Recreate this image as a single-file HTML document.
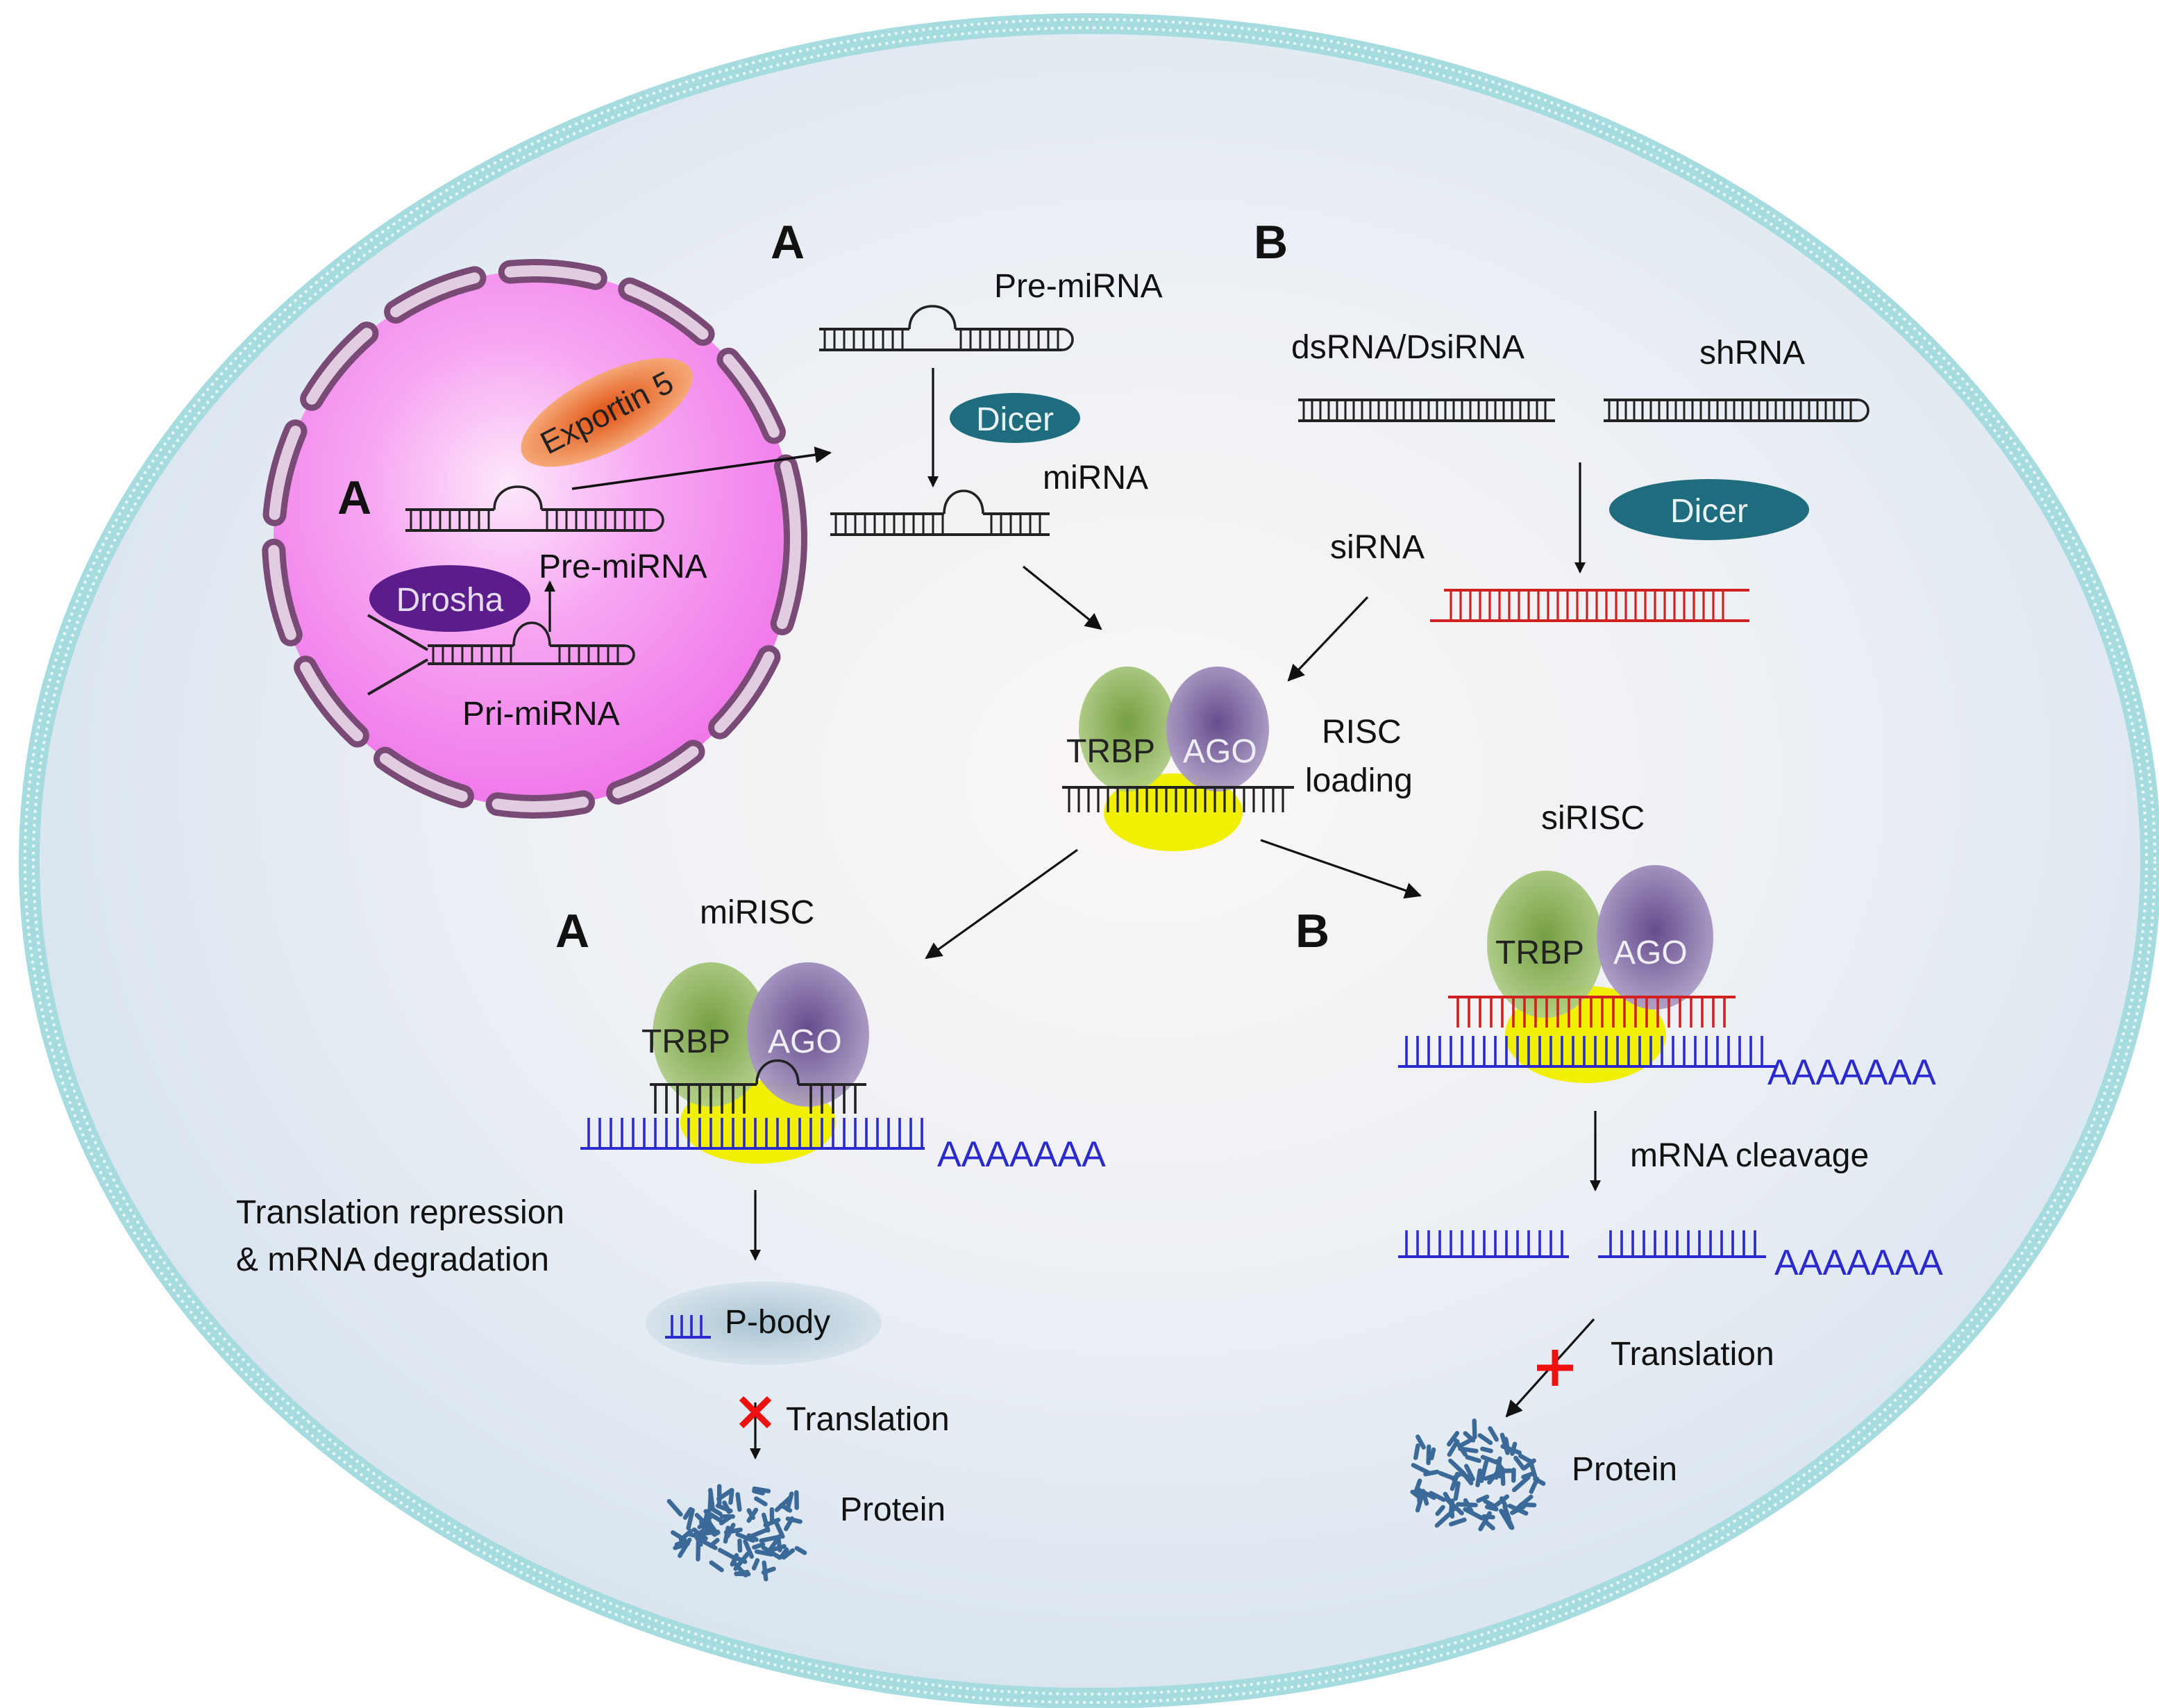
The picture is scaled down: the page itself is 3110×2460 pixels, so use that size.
<!DOCTYPE html>
<html><head><meta charset="utf-8"><style>
html,body{margin:0;padding:0;background:#fff;}
svg{display:block;}
text{font-family:"Liberation Sans",sans-serif;}
</style></head><body>
<svg id="s" width="3110" height="2460" viewBox="0 0 1555 1230" xmlns="http://www.w3.org/2000/svg">
<defs>
<radialGradient id="cell" cx="0.53" cy="0.45" r="0.6">
<stop offset="0" stop-color="#fbf7f5"/><stop offset="0.55" stop-color="#ebeff5"/><stop offset="1" stop-color="#d5e2ee"/></radialGradient>
<radialGradient id="nuc" cx="0.45" cy="0.4" r="0.6">
<stop offset="0" stop-color="#fde8fb"/><stop offset="0.45" stop-color="#f7a6f2"/><stop offset="1" stop-color="#f078ea"/></radialGradient>
<radialGradient id="grn" cx="0.5" cy="0.45" r="0.6"><stop offset="0" stop-color="#6f9a38"/><stop offset="1" stop-color="#b5d28e"/></radialGradient>
<radialGradient id="pur" cx="0.5" cy="0.45" r="0.6"><stop offset="0" stop-color="#5e4487"/><stop offset="1" stop-color="#b3a5cc"/></radialGradient>
<radialGradient id="exp" cx="0.5" cy="0.5" r="0.55"><stop offset="0" stop-color="#e05010"/><stop offset="1" stop-color="#f7b080"/></radialGradient>
<radialGradient id="pb" cx="0.5" cy="0.5" r="0.55"><stop offset="0" stop-color="#a9c4d4"/><stop offset="1" stop-color="#dce6ee"/></radialGradient>
<marker id="ar" markerWidth="8" markerHeight="8" refX="7" refY="4" orient="auto" markerUnits="userSpaceOnUse"><path d="M0,0 L8,4 L0,8 z" fill="#111"/></marker>
<marker id="ar2" markerWidth="12" markerHeight="12" refX="11" refY="6" orient="auto" markerUnits="userSpaceOnUse"><path d="M0,0 L12,6 L0,12 z" fill="#111"/></marker>
</defs>
<rect width="1555" height="1230" fill="#fff"/>
<ellipse cx="785" cy="620" rx="764" ry="603" fill="url(#cell)" stroke="#a6dbe0" stroke-width="15"/>
<ellipse cx="785" cy="620" rx="767" ry="606" fill="none" stroke="#e8f7f8" stroke-width="2" stroke-dasharray="2 3"/>
<ellipse cx="785" cy="620" rx="761" ry="600" fill="none" stroke="#e8f7f8" stroke-width="2" stroke-dasharray="2 3"/>

<!-- nucleus -->
<ellipse cx="385" cy="388" rx="188" ry="193" fill="url(#nuc)"/>
<ellipse cx="385" cy="388" rx="188" ry="193" fill="none" stroke="#7a4a76" stroke-width="17" stroke-dasharray="62 26" stroke-linecap="round"/>
<ellipse cx="385" cy="388" rx="188" ry="193" fill="none" stroke="#e2cde0" stroke-width="8" stroke-dasharray="62 26" stroke-linecap="round"/>

<g id="g"></g>

<g fill="#111">
<text x="555" y="186" font-size="34" font-weight="bold">A</text>
<text x="903" y="186" font-size="34" font-weight="bold">B</text>
<text x="243" y="370" font-size="34" font-weight="bold">A</text>
<text x="400" y="682" font-size="34" font-weight="bold">A</text>
<text x="933" y="682" font-size="34" font-weight="bold">B</text>
<text x="716" y="214" font-size="24">Pre-miRNA</text>
<text x="751" y="352" font-size="24">miRNA</text>
<text x="388" y="416" font-size="24">Pre-miRNA</text>
<text x="333" y="522" font-size="24">Pri-miRNA</text>
<text x="930" y="258" font-size="24">dsRNA/DsiRNA</text>
<text x="1224" y="262" font-size="24">shRNA</text>
<text x="958" y="402" font-size="24">siRNA</text>
<text x="952" y="535" font-size="24">RISC</text>
<text x="940" y="570" font-size="24">loading</text>
<text x="504" y="665" font-size="24">miRISC</text>
<text x="1110" y="597" font-size="24">siRISC</text>
<text x="170" y="881" font-size="24">Translation repression</text>
<text x="170" y="915" font-size="24">&amp; mRNA degradation</text>
<text x="1174" y="840" font-size="24">mRNA cleavage</text>
<text x="566" y="1030" font-size="24">Translation</text>
<text x="605" y="1095" font-size="24">Protein</text>
<text x="1160" y="983" font-size="24">Translation</text>
<text x="1132" y="1066" font-size="24">Protein</text>
</g>
</svg>
<script>
var g=document.getElementById('g'),NS='http://www.w3.org/2000/svg';
function el(t,a){var e=document.createElementNS(NS,t);for(var k in a)e.setAttribute(k,a[k]);g.appendChild(e);return e;}
function line(x1,y1,x2,y2,c,w,m){var o={x1:x1,y1:y1,x2:x2,y2:y2,stroke:c||'#111','stroke-width':w||1.6};if(m)o['marker-end']='url(#'+m+')';return el('line',o);}
function txt(x,y,s,sz,c,extra){var a={x:x,y:y,'font-size':sz,fill:c,'font-family':'Liberation Sans, sans-serif'};for(var k in extra)a[k]=extra[k];var t=el('text',a);t.textContent=s;return t;}
function hp(x1,x2,yb,yt,b1,b2,loop,c,sp){c=c||'#222';sp=sp||7;
 line(x1,yb,x2,yb,c,2);
 if(b1){line(x1,yt,b1,yt,c,2);line(b2,yt,x2,yt,c,2);
  el('path',{d:'M'+b1+' '+yt+' C'+b1+' '+(yt-22)+' '+b2+' '+(yt-22)+' '+b2+' '+yt,fill:'none',stroke:c,'stroke-width':1.8});}
 else line(x1,yt,x2,yt,c,2);
 for(var x=x1+4;x<=x2-2;x+=sp){if(b1&&x>b1-1&&x<b2+1)continue;line(x,yt,x,yb,c,1.5);}
 if(loop){var r=(yb-yt)/2;el('path',{d:'M'+x2+' '+yt+' A'+r+' '+r+' 0 1 1 '+x2+' '+yb,fill:'none',stroke:c,'stroke-width':1.8});}
}
function comb(x1,x2,yb,yt,sp,c,w,lx1,lx2){line(lx1||x1,yb,lx2||x2,yb,c,2);for(var x=x1;x<=x2;x+=sp)line(x,yb,x,yt,c,w||1.8);}
function protein(cx,cy,seed){var s=seed;function r(){s=(s*9301+49297)%233280;return s/233280;}
 for(var i=0;i<80;i++){var a=r()*6.28,d=Math.sqrt(r())*36,x=cx+Math.cos(a)*d*1.3,y=cy+Math.sin(a)*d*0.95,b=r()*6.28,l=6+r()*8;
  line(x,y,x+Math.cos(b)*l,y+Math.sin(b)*l,'#3c6a98',3.2).setAttribute('stroke-linecap','round');}}

hp(590,765,252,237,655,688,true);
line(672,265,672,350,'#111',1.6,'ar');
el('ellipse',{cx:731,cy:301,rx:47,ry:18,fill:'#1f6c7e'});txt(731,310,'Dicer',24,'#e8f2f4',{'text-anchor':'middle'});
hp(598,756,385,370,680,708,false);
var ge=el('g',{transform:'rotate(-27 437 297)'});
var e1=document.createElementNS(NS,'ellipse');[['cx',437],['cy',297],['rx',68],['ry',27],['fill','url(#exp)']].forEach(function(p){e1.setAttribute(p[0],p[1]);});ge.appendChild(e1);
var t1=document.createElementNS(NS,'text');[['x',437],['y',305],['font-size',23],['fill','#222'],['text-anchor','middle'],['font-family','Liberation Sans, sans-serif']].forEach(function(p){t1.setAttribute(p[0],p[1]);});t1.textContent='Exportin 5';ge.appendChild(t1);
line(412,352,598,326,'#111',1.8,'ar2');
hp(292,470,382,367,356,390,true);
line(396,455,396,419,'#111',1.6,'ar');
el('ellipse',{cx:324,cy:431,rx:58,ry:24,fill:'#5b1c8c'});txt(324,440,'Drosha',24,'#e7dcef',{'text-anchor':'middle'});
line(265,443,308,468,'#222',2);line(265,500,308,475,'#222',2);
hp(308,450,478,465,370,396,true);
line(737,408,793,453,'#111',1.6,'ar2');
hp(935,1120,303,288,0,0,false,'#222',6);
hp(1155,1338,303,288,0,0,true,'#222',6);
el('ellipse',{cx:1231,cy:367,rx:72,ry:22,fill:'#1f6c7e'});txt(1231,376,'Dicer',24,'#e8f2f4',{'text-anchor':'middle'});
line(1138,333,1138,412,'#111',1.6,'ar');
line(1030,447,1260,447,'#d02020',2);line(1040,425,1260,425,'#d02020',2);
for(var x=1045;x<=1245;x+=7)line(x,425,x,447,'#d02020',1.6);
line(985,430,928,490,'#111',1.6,'ar2');
el('ellipse',{cx:845,cy:585,rx:50,ry:28,fill:'#f0f000'});
el('ellipse',{cx:812,cy:525,rx:35,ry:45,fill:'url(#grn)',opacity:0.95});
el('ellipse',{cx:877,cy:525,rx:37,ry:45,fill:'url(#pur)',opacity:0.95});
line(765,567,932,567,'#222',2);for(var x=770;x<=928;x+=7)line(x,567,x,585,'#222',1.6);
txt(768,549,'TRBP',24,'#222');txt(852,549,'AGO',24,'#f0eef5');
line(776,612,667,690,'#111',1.6,'ar2');line(908,605,1023,645,'#111',1.6,'ar2');
el('ellipse',{cx:546,cy:808,rx:56,ry:30,fill:'#f0f000'});
el('ellipse',{cx:512,cy:745,rx:42,ry:52,fill:'url(#grn)',opacity:0.95});
el('ellipse',{cx:582,cy:745,rx:44,ry:52,fill:'url(#pur)',opacity:0.95});
txt(462,758,'TRBP',24,'#222');txt(553,758,'AGO',24,'#f0eef5');
line(468,781,545,781,'#222',2);line(575,781,624,781,'#222',2);
el('path',{d:'M545 781 C545 758 575 758 575 781',fill:'none',stroke:'#222','stroke-width':1.8});
for(var x=472;x<=620;x+=8){if(x>543&&x<577)continue;line(x,781,x,802,'#222',1.8);}
comb(424,664,827,805,8,'#2a2ad0',1.8,418,666);
txt(675,840,'AAAAAAA',26,'#2a2ad0');
line(544,857,544,907,'#111',1.6,'ar');
el('ellipse',{cx:550,cy:953,rx:85,ry:30,fill:'url(#pb)'});
comb(484,506,963,947,7,'#2a2ad0',1.8,479,512);
txt(522,960,'P-body',24,'#111');
line(544,1010,544,1050,'#111',1.6,'ar');
line(534,1007,554,1027,'#f01010',4.5);line(554,1007,534,1027,'#f01010',4.5);
protein(535,1100,7);
el('ellipse',{cx:1142,cy:745,rx:58,ry:35,fill:'#f0f000'});
el('ellipse',{cx:1113,cy:680,rx:42,ry:53,fill:'url(#grn)',opacity:0.95});
el('ellipse',{cx:1192,cy:675,rx:42,ry:52,fill:'url(#pur)',opacity:0.95});
txt(1077,694,'TRBP',24,'#222');txt(1162,694,'AGO',24,'#f0eef5');
line(1043,718,1250,718,'#d02020',2);for(var x=1050;x<=1245;x+=8)line(x,718,x,740,'#d02020',1.8);
comb(1013,1272,768,746,8,'#2a2ad0',1.8,1007,1280);
txt(1273,781,'AAAAAAA',26,'#2a2ad0');
line(1149,800,1149,857,'#111',1.6,'ar');
comb(1013,1127,905,886,8,'#2a2ad0',1.8,1007,1130);
comb(1160,1270,905,886,8,'#2a2ad0',1.8,1151,1272);
txt(1278,918,'AAAAAAA',26,'#2a2ad0');
line(1148,950,1085,1020,'#111',1.6,'ar2');
line(1107,985,1133,985,'#f01010',4.5);line(1120,972,1120,998,'#f01010',4.5);
protein(1060,1065,31);
</script>
</body></html>
